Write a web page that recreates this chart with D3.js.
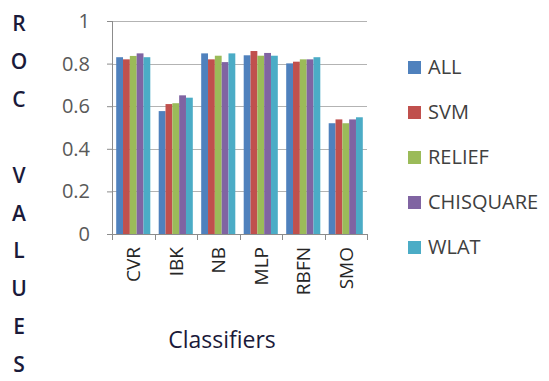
<!DOCTYPE html>
<html>
<head>
<meta charset="utf-8">
<script src="https://cdn.jsdelivr.net/npm/d3@7"></script>
<style>
  body { margin: 0; background: #fff; }
  text { font-family: "Open Sans", "Liberation Sans", sans-serif; }
</style>
</head>
<body>
<div id="chart"></div>
<script>
// chart data
const classifiers = ["CVR", "IBK", "NB", "MLP", "RBFN", "SMO"];
const seriesNames = ["ALL", "SVM", "RELIEF", "CHISQUARE", "WLAT"];
const ALL = [0.83, 0.577, 0.848, 0.839, 0.801, 0.52];
const SVM = [0.82, 0.61, 0.82, 0.859, 0.809, 0.538];
const RELIEF = [0.836, 0.614, 0.837, 0.837, 0.82, 0.52];
const CHISQUARE = [0.848, 0.651, 0.807, 0.85, 0.82, 0.538];
const WLAT = [0.83, 0.64, 0.848, 0.837, 0.83, 0.548];
const yTicks = [0, 0.2, 0.4, 0.6, 0.8, 1];
const yTitle = ["R", "O", "C", "", "V", "A", "L", "U", "E", "S"];

const seriesValues = [ALL, SVM, RELIEF, CHISQUARE, WLAT];
const colors = ["#4F81BD", "#C0504D", "#9BBB59", "#8064A2", "#4BACC6"];

const WIDTH = 549, HEIGHT = 381;
const margin = { left: 112, top: 21, right: 182, bottom: 147 };
const WIDTHVIS = WIDTH - margin.left - margin.right;
const HEIGHTVIS = HEIGHT - margin.top - margin.bottom;

const svg = d3.select("#chart").append("svg")
    .attr("width", WIDTH)
    .attr("height", HEIGHT);

const xScale = d3.scaleBand()
    .domain(classifiers)
    .range([0, WIDTHVIS])
    .padding(0);

const innerScale = d3.scaleBand()
    .domain(seriesNames)
    .range([4.2, xScale.bandwidth() - 4.2])
    .padding(0);

const yScale = d3.scaleLinear()
    .domain([0, 1])
    .range([HEIGHTVIS, 0]);

const plot = svg.append("g")
    .attr("transform", `translate(${margin.left}, ${margin.top})`);

// gridlines
plot.append("g")
    .selectAll("line")
    .data(yTicks.filter(d => d > 0))
    .join("line")
    .attr("x1", 0)
    .attr("x2", WIDTHVIS)
    .attr("y1", d => Math.round(yScale(d)) + 0.5)
    .attr("y2", d => Math.round(yScale(d)) + 0.5)
    .attr("stroke", "#b3b3b3")
    .attr("stroke-width", 1.2);

// y axis
const ejeY = d3.axisLeft(yScale)
    .tickValues(yTicks)
    .tickFormat(d3.format("~g"))
    .tickSize(5)
    .tickPadding(17);

const gy = plot.append("g").call(ejeY);
gy.select(".domain").attr("stroke", "#8c8c8c").attr("d", `M0.5,0V${HEIGHTVIS}`);
gy.selectAll(".tick line").attr("stroke", "#8c8c8c");
gy.selectAll(".tick text")
    .attr("fill", "#595959")
    .style("font-size", "20px");

// bars
const groups = plot.append("g")
    .selectAll("g")
    .data(seriesNames)
    .join("g")
    .attr("fill", (d, i) => colors[i]);

groups.selectAll("rect")
    .data((s, i) => seriesValues[i].map((v, j) => ({ s: s, c: classifiers[j], v: v })))
    .join("rect")
    .attr("x", d => xScale(d.c) + innerScale(d.s))
    .attr("width", innerScale.bandwidth())
    .attr("y", d => yScale(d.v))
    .attr("height", d => HEIGHTVIS - yScale(d.v));

// x axis
const ejeX = d3.axisBottom(xScale).tickSize(0).tickFormat("");
const gx = plot.append("g")
    .attr("transform", `translate(0, ${HEIGHTVIS})`)
    .call(ejeX);
gx.select(".domain").attr("stroke", "#8c8c8c");

plot.append("g")
    .selectAll("line")
    .data(d3.range(classifiers.length + 1))
    .join("line")
    .attr("x1", i => Math.round(i * xScale.step()) + 0.5)
    .attr("x2", i => Math.round(i * xScale.step()) + 0.5)
    .attr("y1", HEIGHTVIS)
    .attr("y2", HEIGHTVIS + 6)
    .attr("stroke", "#8c8c8c");

// rotated category labels
plot.append("g")
    .selectAll("text")
    .data(classifiers)
    .join("text")
    .attr("transform", d => `translate(${xScale(d) + xScale.bandwidth() / 2 + 7}, ${HEIGHTVIS + 13}) rotate(-90)`)
    .attr("text-anchor", "end")
    .attr("fill", "#262626")
    .style("font-size", "19px")
    .text(d => d);

// axis titles
svg.append("text")
    .attr("x", 222)
    .attr("y", 348)
    .attr("text-anchor", "middle")
    .attr("fill", "#1a1a3a")
    .style("font-size", "23px")
    .text("Classifiers");

svg.append("g")
    .selectAll("text")
    .data(yTitle)
    .join("text")
    .attr("x", 19)
    .attr("y", (d, i) => 31 + i * 37.9)
    .attr("text-anchor", "middle")
    .attr("fill", "#1a1a3a")
    .attr("font-weight", 600)
    .style("font-size", "21px")
    .text(d => d);

// legend
const legend = svg.append("g")
    .selectAll("g")
    .data(seriesNames)
    .join("g")
    .attr("transform", (d, i) => `translate(408, ${67 + i * 45})`);

legend.append("rect")
    .attr("x", 0)
    .attr("y", -6)
    .attr("width", 13)
    .attr("height", 13)
    .attr("fill", (d, i) => colors[i]);

legend.append("text")
    .attr("x", 20)
    .attr("y", 0)
    .attr("dy", "0.35em")
    .attr("fill", "#404040")
    .style("font-size", "20px")
    .text(d => d);
</script>
</body>
</html>
